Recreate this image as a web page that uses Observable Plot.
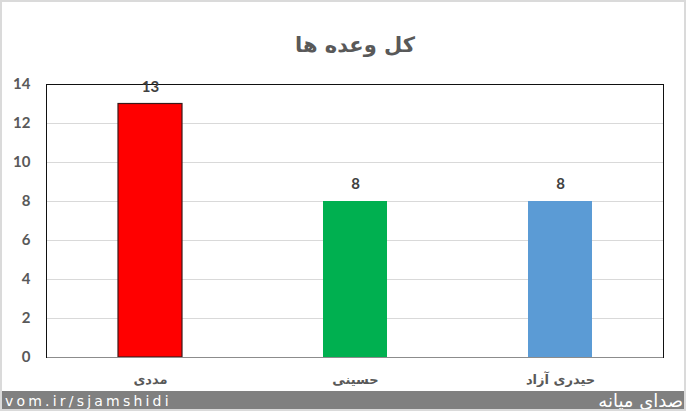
<!DOCTYPE html>
<html>
<head>
<meta charset="utf-8">
<script src="https://cdn.jsdelivr.net/npm/d3@7"></script>
<script src="https://cdn.jsdelivr.net/npm/@observablehq/plot@0.6"></script>
<style>
  html, body { margin: 0; padding: 0; background: #fff; }
  #wrap { position: relative; width: 686px; height: 411px; overflow: hidden; font-family: Lato, "DejaVu Sans", sans-serif; }
  #wrap svg { position: absolute; left: 0; top: 0; }
  #border { position: absolute; left: 0; top: 0; width: 682px; height: 407px; border: 2px solid #dadada; pointer-events: none; }
  #footer { position: absolute; left: 0; top: 391px; width: 686px; height: 20px; background: #808080; color: #fff; }
  #footer .url { position: absolute; left: 5px; top: 0px; font-family: "DejaVu Sans", sans-serif; font-size: 14px; letter-spacing: 3.2px; line-height: 20px; }
  #footer .logo { position: absolute; right: 3px; top: 0px; font-family: "DejaVu Sans", sans-serif; font-size: 18px; direction: rtl; line-height: 20px; }
</style>
</head>
<body>
<div id="wrap"></div>
<script>
const title = "کل وعده ها";
const candidates = ["مددی", "حسینی", "حیدری آزاد"];
const promises = [13, 8, 8];
const colors = ["#ff0000", "#00b050", "#5b9bd5"];
const strokes = ["#3a1a1a", "none", "none"];
const yTicks = [0, 2, 4, 6, 8, 10, 12, 14];

const data = candidates.map((c, i) => ({name: c, value: promises[i], color: colors[i], stroke: strokes[i]}));

const chart = Plot.plot({
  width: 686,
  height: 411,
  marginTop: 84,
  marginBottom: 54,
  marginLeft: 46,
  marginRight: 23,
  style: {fontFamily: 'Lato, "DejaVu Sans", sans-serif', background: "transparent"},
  x: {domain: candidates, paddingInner: 0.69, paddingOuter: 0.345, label: null, axis: null},
  y: {domain: [0, 14], ticks: yTicks, label: null, axis: null},
  marks: [
    Plot.gridY(yTicks, {stroke: "#d9d9d9", strokeOpacity: 1}),
    Plot.barY(data, {x: "name", y: "value", fill: "color", stroke: "stroke", strokeWidth: 1.2}),
    Plot.ruleY([0], {stroke: "#8c8c8c"}),
    Plot.frame({anchor: "left", stroke: "#111"}),
    Plot.frame({anchor: "top", stroke: "#111"}),
    Plot.frame({anchor: "right", stroke: "#111"}),
    Plot.axisY(yTicks, {tickSize: 0, tickPadding: 16, fontSize: 15, fontWeight: "bold", fill: "#595959", label: null}),
    Plot.axisX({tickSize: 0, tickPadding: 17, fontSize: 13, fontWeight: "bold", fill: "#595959", label: null, fontFamily: "DejaVu Sans"}),
    Plot.text(data, {x: "name", y: "value", text: d => String(d.value), dy: -17, fontSize: 15, fontWeight: "bold", fill: "#404040"}),
    Plot.text([title], {frameAnchor: "top", dy: -47, fontSize: 21, fontWeight: "bold", fill: "#595959", fontFamily: "DejaVu Sans"})
  ]
});
const wrap = document.getElementById("wrap");
wrap.appendChild(chart);
const footer = document.createElement("div");
footer.id = "footer";
footer.innerHTML = '<span class="url">vom.ir/sjamshidi</span><span class="logo">صدای میانه</span>';
wrap.appendChild(footer);
const border = document.createElement("div");
border.id = "border";
wrap.appendChild(border);
</script>
</body>
</html>
